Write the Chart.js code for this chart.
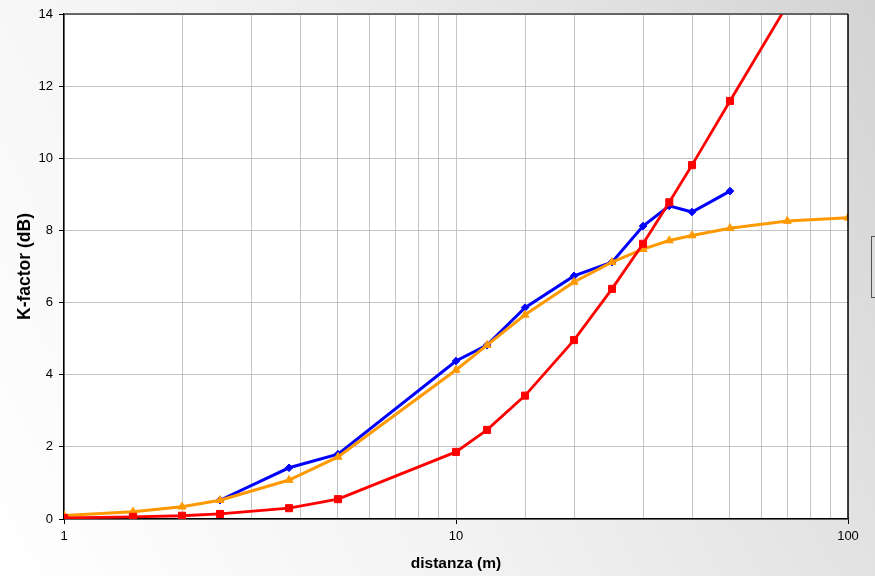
<!DOCTYPE html>
<html>
<head>
<meta charset="utf-8">
<script src="https://cdn.jsdelivr.net/npm/chart.js@4/dist/chart.umd.min.js"></script>
<style>
  html, body { margin: 0; padding: 0; }
  body {
    width: 875px; height: 576px; overflow: hidden;
    background: linear-gradient(62deg, #ffffff 0%, #f3f3f3 40%, #e2e2e2 75%, #d3d3d3 100%);
  }
  #wrap { position: relative; width: 875px; height: 576px; }
</style>
</head>
<body>
<div id="wrap"><canvas id="chart" width="875" height="576"></canvas></div>
<script>
// Distances (m) at which the K-factor was evaluated
const distBlue   = [2.5, 3.75, 5, 10, 12, 15, 20, 25, 30, 35, 40, 50];
const kBlue      = [0.52, 1.42, 1.80, 4.38, 4.82, 5.86, 6.74, 7.12, 8.12, 8.68, 8.51, 9.09];

const distOrange = [1, 1.5, 2, 2.5, 3.75, 5, 10, 12, 15, 20, 25, 30, 35, 40, 50, 70, 100];
const kOrange    = [0.10, 0.20, 0.34, 0.52, 1.08, 1.72, 4.13, 4.82, 5.66, 6.57, 7.12, 7.48, 7.72, 7.86, 8.06, 8.26, 8.35];

const distRed    = [1, 1.5, 2, 2.5, 3.75, 5, 10, 12, 15, 20, 25, 30, 35, 40, 50, 70];
const kRed       = [0.03, 0.06, 0.09, 0.14, 0.30, 0.55, 1.86, 2.47, 3.42, 4.96, 6.38, 7.63, 8.78, 9.81, 11.59, 14.25];

// Axis labels
const xLabeled   = [1, 10, 100];
const yTicks     = [0, 2, 4, 6, 8, 10, 12, 14];
const xTitle     = 'distanza (m)';
const yTitle     = 'K-factor (dB)';

const pairs = (xs, ys) => xs.map((x, i) => ({ x: x, y: ys[i] }));
const FONT = "'Liberation Sans', Arial, sans-serif";

// White plot area, dark frame on top/right and the legend frame at the right edge
const frame = {
  id: 'frame',
  beforeDraw(chart) {
    const { ctx, chartArea: a } = chart;
    ctx.save();
    ctx.fillStyle = '#ffffff';
    ctx.fillRect(a.left, a.top, a.right - a.left, a.bottom - a.top);
    ctx.restore();
  },
  afterDraw(chart) {
    const { ctx, chartArea: a } = chart;
    ctx.save();
    ctx.lineWidth = 1.5;
    ctx.strokeStyle = '#404040';
    ctx.beginPath();
    ctx.moveTo(a.left, a.top);
    ctx.lineTo(a.right, a.top);
    ctx.stroke();
    ctx.strokeStyle = '#000000';
    ctx.beginPath();
    ctx.moveTo(a.right, a.top);
    ctx.lineTo(a.right, a.bottom);
    ctx.stroke();
    // legend frame, mostly beyond the canvas edge
    const lx = a.right + 23.5;
    ctx.fillStyle = '#dcdcdc';
    ctx.fillRect(lx, 236, 60, 61);
    ctx.lineWidth = 1;
    ctx.strokeStyle = '#555555';
    ctx.strokeRect(lx, 236.5, 60, 61);
    ctx.restore();
  }
};

new Chart(document.getElementById('chart'), {
  type: 'line',
  data: {
    datasets: [
      {
        data: pairs(distBlue, kBlue),
        borderColor: '#0000ff', backgroundColor: '#0000ff',
        borderWidth: 3, pointStyle: 'rectRot', pointRadius: 3.8,
        pointBorderWidth: 1, tension: 0, order: 2
      },
      {
        data: pairs(distOrange, kOrange),
        borderColor: '#ff9900', backgroundColor: '#ff9900',
        borderWidth: 3, pointStyle: 'triangle', pointRadius: 4.6,
        pointBorderWidth: 1, tension: 0, order: 1
      },
      {
        data: pairs(distRed, kRed),
        borderColor: '#ff0000', backgroundColor: '#ff0000',
        borderWidth: 2.8, pointStyle: 'rect', pointRadius: 5,
        pointBorderWidth: 1, tension: 0, order: 0
      }
    ]
  },
  options: {
    responsive: false,
    animation: false,
    devicePixelRatio: 1,
    layout: { padding: { top: 14, right: 27, left: 0, bottom: 0 } },
    plugins: { legend: { display: false }, tooltip: { enabled: false } },
    scales: {
      x: {
        type: 'logarithmic',
        min: 1, max: 100,
        afterFit(s) { s.height = 57; },
        border: { color: '#000000', width: 1.5 },
        grid: {
          color: '#c4c4c4',
          lineWidth: 1,
          tickLength: 5,
          tickColor: (c) => (c.tick && xLabeled.includes(c.tick.value)) ? '#000000' : 'rgba(0,0,0,0)'
        },
        ticks: {
          autoSkip: false, maxRotation: 0, padding: 5,
          color: '#000000',
          font: { family: FONT, size: 13 },
          callback: (v) => xLabeled.includes(v) ? String(v) : ''
        },
        title: {
          display: true, text: xTitle, color: '#000000',
          font: { family: FONT, size: 15.5, weight: 'bold', lineHeight: 1.2 },
          padding: { top: 0, bottom: 3 }
        }
      },
      y: {
        min: 0, max: 14,
        afterFit(s) { s.width = 64; },
        afterBuildTicks(s) { s.ticks = yTicks.map(v => ({ value: v })); },
        border: { color: '#000000', width: 1.5 },
        grid: { color: '#c4c4c4', lineWidth: 1, tickLength: 5, tickColor: '#000000' },
        ticks: {
          padding: 6, color: '#000000',
          font: { family: FONT, size: 13 }
        },
        title: {
          display: true, text: yTitle, color: '#000000',
          font: { family: FONT, size: 17.5, weight: 'bold', lineHeight: 1.2 },
          padding: { top: 15, bottom: 0 }
        }
      }
    }
  },
  plugins: [frame]
});
</script>
</body>
</html>
